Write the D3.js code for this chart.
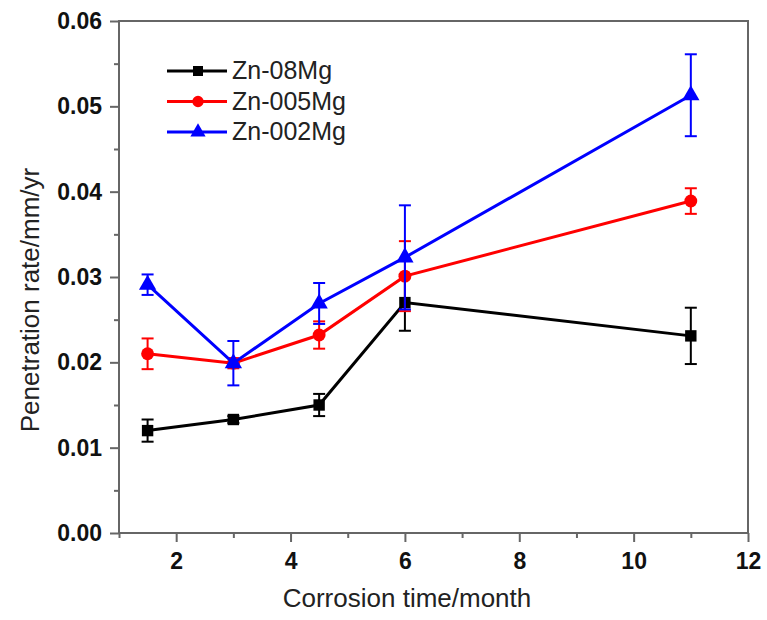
<!DOCTYPE html>
<html>
<head>
<meta charset="utf-8">
<script src="https://cdn.jsdelivr.net/npm/d3@7"></script>
<style>
  body { margin: 0; background: #fff; }
  text { font-family: "Liberation Sans", Arial, sans-serif; }
</style>
</head>
<body>
<div id="chart"></div>
<script>
// months of exposure
var months = [1.5, 3, 4.5, 6, 11];

// penetration rate (mm/yr) and error bar half widths
var zn08 = [0.0120, 0.0133, 0.0150, 0.0270, 0.0231];
var zn08Err = [0.0013, 0.0004, 0.0013, 0.0033, 0.0033];
var zn005 = [0.0210, 0.0199, 0.0232, 0.0301, 0.0389];
var zn005Err = [0.0018, 0.0006, 0.0016, 0.0041, 0.0015];
var zn002 = [0.0291, 0.0199, 0.0269, 0.0323, 0.0513];
var zn002Err = [0.0012, 0.0026, 0.0024, 0.0061, 0.0048];

var seriesNames = ["Zn-08Mg", "Zn-005Mg", "Zn-002Mg"];
var xTicks = [2, 4, 6, 8, 10, 12];
var yTicks = [0, 0.01, 0.02, 0.03, 0.04, 0.05, 0.06];

var series = [
  { name: seriesNames[0], values: zn08, err: zn08Err, color: "#000000", symbol: d3.symbolSquare },
  { name: seriesNames[1], values: zn005, err: zn005Err, color: "#ff0000", symbol: d3.symbolCircle },
  { name: seriesNames[2], values: zn002, err: zn002Err, color: "#0000ff", symbol: d3.symbolTriangle }
];

var width = 767, height = 620;
var margin = { left: 119, right: 19, top: 21, bottom: 87 };
var axisColor = "#666";

var svg = d3.select("#chart").append("svg")
  .attr("width", width)
  .attr("height", height);

var x = d3.scaleLinear().domain([1, 12]).range([margin.left, width - margin.right]);
var y = d3.scaleLinear().domain([0, 0.06]).range([height - margin.bottom, margin.top]);

// frame
svg.append("rect")
  .attr("x", x(1)).attr("y", y(0.06))
  .attr("width", x(12) - x(1)).attr("height", y(0) - y(0.06))
  .attr("fill", "none").attr("stroke", axisColor).attr("stroke-width", 2);

// minor ticks
var xMinor = d3.range(1, 13, 1).filter(function (d) { return d % 2 === 1; });
var yMinor = d3.range(0.005, 0.06, 0.01);

svg.append("g")
  .attr("transform", "translate(0," + y(0) + ")")
  .call(d3.axisBottom(x).tickValues(xMinor).tickSize(5).tickFormat(""))
  .call(function (g) { g.select(".domain").remove(); });

svg.append("g")
  .attr("transform", "translate(" + x(1) + ",0)")
  .call(d3.axisLeft(y).tickValues(yMinor).tickSize(5).tickFormat(""))
  .call(function (g) { g.select(".domain").remove(); });

// major ticks
var xAxis = svg.append("g")
  .attr("transform", "translate(0," + y(0) + ")")
  .call(d3.axisBottom(x).tickValues(xTicks).tickSize(9).tickPadding(11).tickFormat(d3.format("d")));
xAxis.select(".domain").remove();

var yAxis = svg.append("g")
  .attr("transform", "translate(" + x(1) + ",0)")
  .call(d3.axisLeft(y).tickValues(yTicks).tickSize(9).tickPadding(8).tickFormat(d3.format(".2f")));
yAxis.select(".domain").remove();

svg.selectAll(".tick line").attr("stroke", axisColor).attr("stroke-width", 2);
svg.selectAll(".tick text")
  .attr("fill", "#111")
  .style("font-size", "23px")
  .style("font-weight", "bold");

// axis titles
svg.append("text")
  .attr("x", 407).attr("y", 607)
  .attr("text-anchor", "middle")
  .style("font-size", "26px")
  .attr("fill", "#222")
  .text("Corrosion time/month");

svg.append("text")
  .attr("transform", "translate(39,300) rotate(-90)")
  .attr("text-anchor", "middle")
  .style("font-size", "26px")
  .attr("fill", "#222")
  .text("Penetration rate/mm/yr");

var line = d3.line()
  .x(function (d, i) { return x(months[i]); })
  .y(function (d) { return y(d); });

// series: lines, error bars, markers
series.forEach(function (s) {
  var g = svg.append("g");

  g.append("path")
    .datum(s.values)
    .attr("d", line)
    .attr("fill", "none")
    .attr("stroke", s.color)
    .attr("stroke-width", 3);

  var bars = g.selectAll(".err")
    .data(s.values)
    .enter().append("g");

  bars.append("line")
    .attr("x1", function (d, i) { return x(months[i]); })
    .attr("x2", function (d, i) { return x(months[i]); })
    .attr("y1", function (d, i) { return y(d + s.err[i]); })
    .attr("y2", function (d, i) { return y(d - s.err[i]); })
    .attr("stroke", s.color).attr("stroke-width", 2);

  [1, -1].forEach(function (sign) {
    bars.append("line")
      .attr("x1", function (d, i) { return x(months[i]) - 6; })
      .attr("x2", function (d, i) { return x(months[i]) + 6; })
      .attr("y1", function (d, i) { return y(d + sign * s.err[i]); })
      .attr("y2", function (d, i) { return y(d + sign * s.err[i]); })
      .attr("stroke", s.color).attr("stroke-width", 2);
  });

  g.selectAll(".pt")
    .data(s.values)
    .enter().append("path")
    .attr("d", d3.symbol().type(s.symbol).size(130))
    .attr("transform", function (d, i) { return "translate(" + x(months[i]) + "," + y(d) + ")"; })
    .attr("fill", s.color);
});

// legend
var legend = svg.selectAll(".legend")
  .data(series)
  .enter().append("g")
  .attr("transform", function (d, i) { return "translate(167," + (71 + i * 30.5) + ")"; });

legend.append("line")
  .attr("x1", 0).attr("x2", 60)
  .attr("stroke", function (d) { return d.color; })
  .attr("stroke-width", 3);

legend.append("path")
  .attr("d", function (d) { return d3.symbol().type(d.symbol).size(100)(); })
  .attr("transform", "translate(31,0)")
  .attr("fill", function (d) { return d.color; });

legend.append("text")
  .attr("x", 65).attr("y", 8)
  .style("font-size", "25px")
  .attr("fill", "#222")
  .text(function (d) { return d.name; });
</script>
</body>
</html>
